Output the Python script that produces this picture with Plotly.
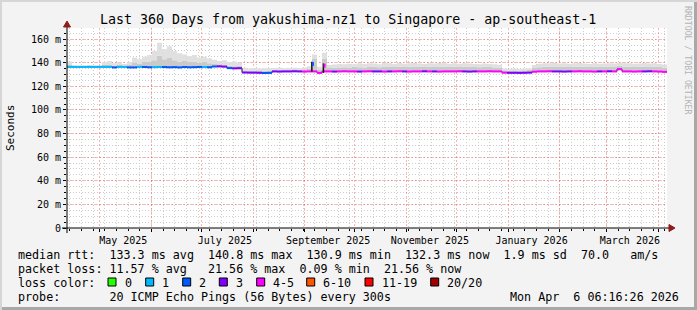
import pandas as pd
import plotly.graph_objects as go

TITLE = "Last 360 Days from yakushima-nz1 to Singapore - ap-southeast-1"
START = "2025-04-11 06:16:26"
STEP = "3D"

median = [
    136.5, 136.5, 136.5, 136.5, 136.5, 136.5, 136.5, 136.5, 136.5, 136.0,
    136.5, 136.5, 136.0, 136.0, 136.5, 136.4, 136.1, 136.2, 136.4, 136.3,
    136.1, 136.2, 136.0, 136.3, 136.1, 136.2, 136.4, 136.3, 136.1, 136.8,
    136.9, 136.7, 135.4, 135.2, 135.3, 131.7, 131.6, 131.6, 131.5, 131.3,
    131.4, 132.6, 132.5, 132.6, 132.6, 132.7, 132.6, 132.5, 132.6, 132.6,
    131.4, 132.6, 132.6, 132.5, 132.6, 132.7, 132.6, 132.6, 132.5, 132.6,
    132.7, 132.6, 132.6, 132.5, 132.6, 132.6, 132.7, 132.6, 132.5, 132.6,
    132.6, 132.7, 132.6, 132.6, 132.5, 132.6, 132.6, 132.6, 132.7, 132.6,
    132.5, 132.6, 132.6, 132.6, 132.7, 132.6, 132.6, 131.6, 131.5, 131.5,
    131.4, 131.5, 131.6, 132.4, 132.6, 132.6, 132.7, 132.6, 132.6, 132.5,
    132.6, 132.6, 132.7, 132.6, 132.6, 132.5, 132.6, 132.6, 132.7, 132.6,
    134.5, 132.6, 132.6, 132.5, 132.6, 132.6, 132.7, 132.6, 132.5, 132.3,
]

loss_class = [
    1, 1, 1, 1, 1, 1, 1, 1, 1, 2,
    1, 1, 2, 2, 1, 2, 2, 1, 1, 2,
    2, 2, 2, 2, 2, 2, 2, 1, 2, 2,
    3, 3, 2, 3, 3, 3, 3, 3, 3, 2,
    2, 3, 3, 3, 3, 3, 3, 4, 4, 4,
    4, 4, 4, 3, 4, 4, 4, 4, 3, 4,
    4, 3, 3, 4, 3, 4, 4, 3, 4, 4,
    4, 3, 4, 3, 4, 4, 4, 4, 4, 3,
    3, 3, 4, 4, 4, 4, 4, 4, 3, 3,
    3, 3, 3, 4, 4, 4, 4, 3, 3, 3,
    3, 4, 4, 4, 4, 4, 3, 4, 3, 4,
    4, 4, 4, 4, 4, 3, 3, 4, 4, 4,
]

# short-lived median spikes (time, base, top, loss class at the top)
spike_times = ["2025-09-05 04:00", "2025-09-12 03:00"]
spike_base = [132.6, 131.4]
spike_top = [140.8, 139.4]
spike_class = [2, 4]

smoke_mid = [
    138.5, 137.0, 137.0, 137.0, 137.2, 137.0, 137.0, 138.0, 138.5, 137.5,
    138.0, 137.5, 138.0, 140.0, 139.0, 140.5, 141.0, 142.0, 146.0, 143.0,
    144.0, 142.0, 141.0, 141.5, 140.5, 141.0, 140.0, 140.5, 139.5, 139.0,
    138.8, 138.5, 137.5, 137.0, 137.5, 133.5, 133.2, 133.4, 133.0, 133.2,
    133.2, 134.0, 134.2, 134.0, 134.3, 134.4, 134.0, 134.5, 135.0, 143.5,
    134.5, 143.5, 135.5, 135.8, 136.0, 136.2, 136.0, 136.5, 136.2, 136.0,
    136.4, 136.5, 136.2, 136.5, 136.8, 136.4, 136.6, 136.3, 136.5, 136.8,
    136.5, 136.3, 136.6, 136.4, 136.8, 136.5, 136.4, 136.6, 136.3, 136.5,
    136.6, 136.4, 136.2, 136.5, 136.3, 136.0, 135.8, 133.6, 133.4, 133.5,
    133.3, 133.5, 133.8, 135.5, 136.2, 136.5, 136.6, 136.8, 136.5, 136.7,
    136.4, 136.6, 136.8, 136.5, 136.3, 136.6, 136.4, 136.5, 136.7, 136.4,
    137.5, 136.5, 136.6, 136.4, 136.5, 136.7, 136.4, 136.5, 136.3, 135.8,
]

smoke_hi = [
    141.0, 137.6, 137.4, 137.5, 137.8, 137.5, 137.6, 140.5, 141.5, 139.5,
    140.2, 139.0, 140.5, 144.5, 143.0, 145.0, 146.5, 150.0, 157.0, 151.5,
    154.0, 150.0, 148.0, 147.0, 145.5, 146.5, 144.5, 145.0, 143.5, 142.5,
    141.5, 142.0, 140.5, 141.0, 140.0, 135.5, 135.2, 135.6, 135.0, 135.4,
    135.3, 135.5, 135.8, 135.4, 135.6, 135.8, 135.5, 136.0, 137.0, 147.0,
    136.5, 148.5, 138.0, 138.5, 139.0, 138.8, 139.2, 138.6, 139.5, 139.0,
    139.6, 139.4, 138.8, 139.8, 139.5, 139.0, 139.7, 139.2, 139.5, 139.8,
    139.4, 139.0, 139.6, 139.3, 139.8, 139.5, 139.1, 139.6, 139.2, 139.5,
    139.4, 139.0, 138.8, 139.3, 139.0, 138.6, 138.2, 135.0, 134.8, 135.0,
    134.7, 134.9, 135.2, 138.0, 139.2, 139.5, 139.6, 139.8, 139.4, 139.6,
    139.2, 139.5, 139.8, 139.4, 139.0, 139.5, 139.2, 139.4, 139.6, 139.3,
    140.0, 139.5, 139.6, 139.2, 139.4, 139.7, 139.3, 139.5, 139.0, 138.5,
]

loss_labels = ["0", "1", "2", "3", "4-5", "6-10", "11-19", "20/20"]
loss_colors = ["#26ff00", "#00b8ff", "#0059ff", "#7e00ff", "#ff00ff",
               "#ff5500", "#ff0000", "#a10000"]

y_tickvals = [0, 20, 40, 60, 80, 100, 120, 140, 160]
y_ticktext = ["0", "20 m", "40 m", "60 m", "80 m", "100 m", "120 m", "140 m", "160 m"]

month_starts = ["2025-05-01", "2025-06-01", "2025-07-01", "2025-08-01",
                "2025-09-01", "2025-10-01", "2025-11-01", "2025-12-01",
                "2026-01-01", "2026-02-01", "2026-03-01", "2026-04-01"]
x_label_dates = ["2025-05-15", "2025-07-15", "2025-09-15",
                 "2025-11-15", "2026-01-15", "2026-03-15"]
x_label_text = ["May 2025", "July 2025", "September 2025",
                "November 2025", "January 2026", "March 2026"]

stat_lines = [
    "median rtt:  133.3 ms avg  140.8 ms max  130.9 ms min  132.3 ms now  1.9 ms sd  70.0   am/s",
    "packet loss: 11.57 % avg   21.56 % max  0.09 % min  21.56 % now",
    "loss color:",
    "probe:       20 ICMP Echo Pings (56 Bytes) every 300s",
]
stamp = "Mon Apr  6 06:16:26 2026"

# ---------------------------------------------------------------- layout geometry
W, H = 697, 310
L, T, PW, PH = 67, 28, 600, 200
MONO = "DejaVu Sans Mono"


def px(x):
    return (x - L) / PW


def py(y):
    return (T + PH - y) / PH


def nb(s):
    return s.replace(" ", "\u00a0")


t = pd.date_range(START, periods=len(median) + 1, freq=STEP)
x_end = t[-1]

fig = go.Figure()

# smoke
med_ext = median + [median[-1]]
fig.add_trace(go.Scatter(x=t, y=med_ext, mode="lines", line=dict(width=0, shape="hv"),
                         hoverinfo="skip", showlegend=False))
fig.add_trace(go.Scatter(x=t, y=smoke_mid + [smoke_mid[-1]], mode="lines",
                         line=dict(width=0, shape="hv"), fill="tonexty",
                         fillcolor="#cacaca", hoverinfo="skip", showlegend=False))
fig.add_trace(go.Scatter(x=t, y=smoke_hi + [smoke_hi[-1]], mode="lines",
                         line=dict(width=0, shape="hv"), fill="tonexty",
                         fillcolor="#e0e0e0", hoverinfo="skip", showlegend=False))

# base median (vertical steps)
fig.add_trace(go.Scatter(x=t, y=med_ext, mode="lines",
                         line=dict(width=1, shape="hv", color="#111111"),
                         hoverinfo="skip", showlegend=False))

# coloured median segments by loss
for c, col in enumerate(loss_colors):
    xs, ys = [], []
    for i, v in enumerate(median):
        if loss_class[i] == c:
            xs += [t[i], t[i + 1], None]
            ys += [v, v, None]
    if xs:
        fig.add_trace(go.Scatter(x=xs, y=ys, mode="lines",
                                 line=dict(width=2, color=col),
                                 hoverinfo="skip", showlegend=False))

# thin spikes
st = pd.to_datetime(spike_times)
sx, sy = [], []
for d, b, tp in zip(st, spike_base, spike_top):
    sx += [d, d, None]
    sy += [b, tp, None]
fig.add_trace(go.Scatter(x=sx, y=sy, mode="lines", line=dict(width=1.5, color="#111111"),
                         hoverinfo="skip", showlegend=False))
for d, tp, c in zip(st, spike_top, spike_class):
    d2 = d + pd.Timedelta(hours=16)
    fig.add_trace(go.Scatter(x=[d2, d2], y=[tp - 3.5, tp - 0.3], mode="lines",
                             line=dict(width=2, color=loss_colors[c]),
                             hoverinfo="skip", showlegend=False))

# dummy trace for label axis
fig.add_trace(go.Scatter(x=[t[0], x_end], y=[None, None], xaxis="x2",
                         showlegend=False, hoverinfo="skip"))

RED = "rgba(255,70,70,0.42)"
GRAY = "#cdcdcd"

fig.update_layout(
    width=W, height=H,
    margin=dict(l=L, r=W - L - PW, t=T, b=H - T - PH),
    paper_bgcolor="#f3f3f3", plot_bgcolor="#ffffff",
    font=dict(family=MONO, size=10, color="#000000"),
    showlegend=False,
    xaxis=dict(
        type="date", range=[t[0], x_end],
        tickvals=month_starts, showticklabels=False,
        showgrid=True, gridcolor=RED, griddash="2px,2px", gridwidth=1,
        ticks="outside", ticklen=3, tickcolor="#000000",
        minor=dict(dtick=7 * 86400000, tick0="2025-04-13",
                   showgrid=True, gridcolor=GRAY, griddash="1px,2px",
                   ticks="outside", ticklen=2, tickcolor="#000000"),
        showline=False, zeroline=False,
    ),
    xaxis2=dict(
        type="date", overlaying="x", matches="x", anchor="y", side="bottom",
        tickvals=x_label_dates, ticktext=x_label_text, showgrid=False,
        ticks="", ticklabelstandoff=5, tickfont=dict(family=MONO, size=10),
        showline=False, zeroline=False,
    ),
    yaxis=dict(
        range=[0, 169.4], tickvals=y_tickvals, ticktext=y_ticktext,
        showgrid=True, gridcolor=RED, griddash="2px,2px", gridwidth=1,
        ticks="outside", ticklen=3, tickcolor="#000000",
        minor=dict(dtick=5, showgrid=True, gridcolor=GRAY, griddash="1px,2px",
                   ticks="outside", ticklen=2, tickcolor="#000000"),
        tickfont=dict(family=MONO, size=10),
        showline=False, zeroline=False,
    ),
)

shapes = []
# frame of the image
shapes.append(dict(type="rect", xref="paper", yref="paper",
                   x0=px(0), x1=px(W), y0=py(H - 3), y1=py(H),
                   fillcolor="#a8a8a8", line=dict(width=0), layer="below"))
shapes.append(dict(type="rect", xref="paper", yref="paper",
                   x0=px(W - 3), x1=px(W), y0=py(H), y1=py(0),
                   fillcolor="#a8a8a8", line=dict(width=0), layer="below"))
shapes.append(dict(type="rect", xref="paper", yref="paper",
                   x0=px(0), x1=px(W), y0=py(2), y1=py(0),
                   fillcolor="#d6d6d6", line=dict(width=0), layer="below"))
shapes.append(dict(type="rect", xref="paper", yref="paper",
                   x0=px(0), x1=px(2), y0=py(H), y1=py(0),
                   fillcolor="#d6d6d6", line=dict(width=0), layer="below"))
# axes lines with arrows
shapes.append(dict(type="line", xref="paper", yref="paper",
                   x0=px(62), x1=px(670), y0=0, y1=0,
                   line=dict(color="#000000", width=1)))
shapes.append(dict(type="line", xref="paper", yref="paper",
                   x0=0, x1=0, y0=py(233), y1=py(24),
                   line=dict(color="#000000", width=1)))
ARROW = "#8f1b1b"
shapes.append(dict(type="path", xref="paper", yref="paper",
                   path=f"M {px(669)} {py(224.5)} L {px(675)} {py(228)} L {px(669)} {py(231.5)} Z",
                   fillcolor=ARROW, line=dict(color=ARROW, width=1)))
shapes.append(dict(type="path", xref="paper", yref="paper",
                   path=f"M {px(63.5)} {py(27)} L {px(67)} {py(21)} L {px(70.5)} {py(27)} Z",
                   fillcolor=ARROW, line=dict(color=ARROW, width=1)))

# loss colour legend squares
sq_left = [108, 145.7, 182.7, 219.3, 256.7, 306.7, 365, 430.7]
for xl, col in zip(sq_left, loss_colors):
    shapes.append(dict(type="rect", xref="paper", yref="paper",
                       x0=px(xl), x1=px(xl + 8), y0=py(286), y1=py(278),
                       fillcolor=col, line=dict(color="#000000", width=1)))

fig.update_layout(shapes=shapes)

ann = []
ann.append(dict(text=nb(TITLE), x=px(348), y=py(19), xref="paper", yref="paper",
                showarrow=False, xanchor="center", yanchor="middle",
                font=dict(family=MONO, size=13.3, color="#000000")))
ann.append(dict(text="Seconds", x=px(10), y=py(128), xref="paper", yref="paper",
                showarrow=False, textangle=-90, xanchor="center", yanchor="middle",
                font=dict(family=MONO, size=11, color="#000000")))
ann.append(dict(text=nb("RRDTOOL / TOBI OETIKER"), x=px(688), y=py(60),
                xref="paper", yref="paper", showarrow=False, textangle=90,
                xanchor="center", yanchor="middle",
                font=dict(family=MONO, size=8.2, color="#b4b4b4")))
line_y = [254.5, 268.5, 282.5, 296.5]
for s, yy in zip(stat_lines, line_y):
    ann.append(dict(text=nb(s), x=px(16), y=py(yy), xref="paper", yref="paper",
                    showarrow=False, xanchor="left", yanchor="middle",
                    font=dict(family=MONO, size=11.7, color="#000000")))
ann.append(dict(text=nb(stamp), x=px(681), y=py(296.5), xref="paper", yref="paper",
                showarrow=False, xanchor="right", yanchor="middle",
                font=dict(family=MONO, size=11.7, color="#000000")))
for xl, lab in zip(sq_left, loss_labels):
    ann.append(dict(text=lab, x=px(xl + 14.5), y=py(282.5), xref="paper", yref="paper",
                    showarrow=False, xanchor="left", yanchor="middle",
                    font=dict(family=MONO, size=11.7, color="#000000")))
fig.update_layout(annotations=ann)

fig.write_html("out.html")
